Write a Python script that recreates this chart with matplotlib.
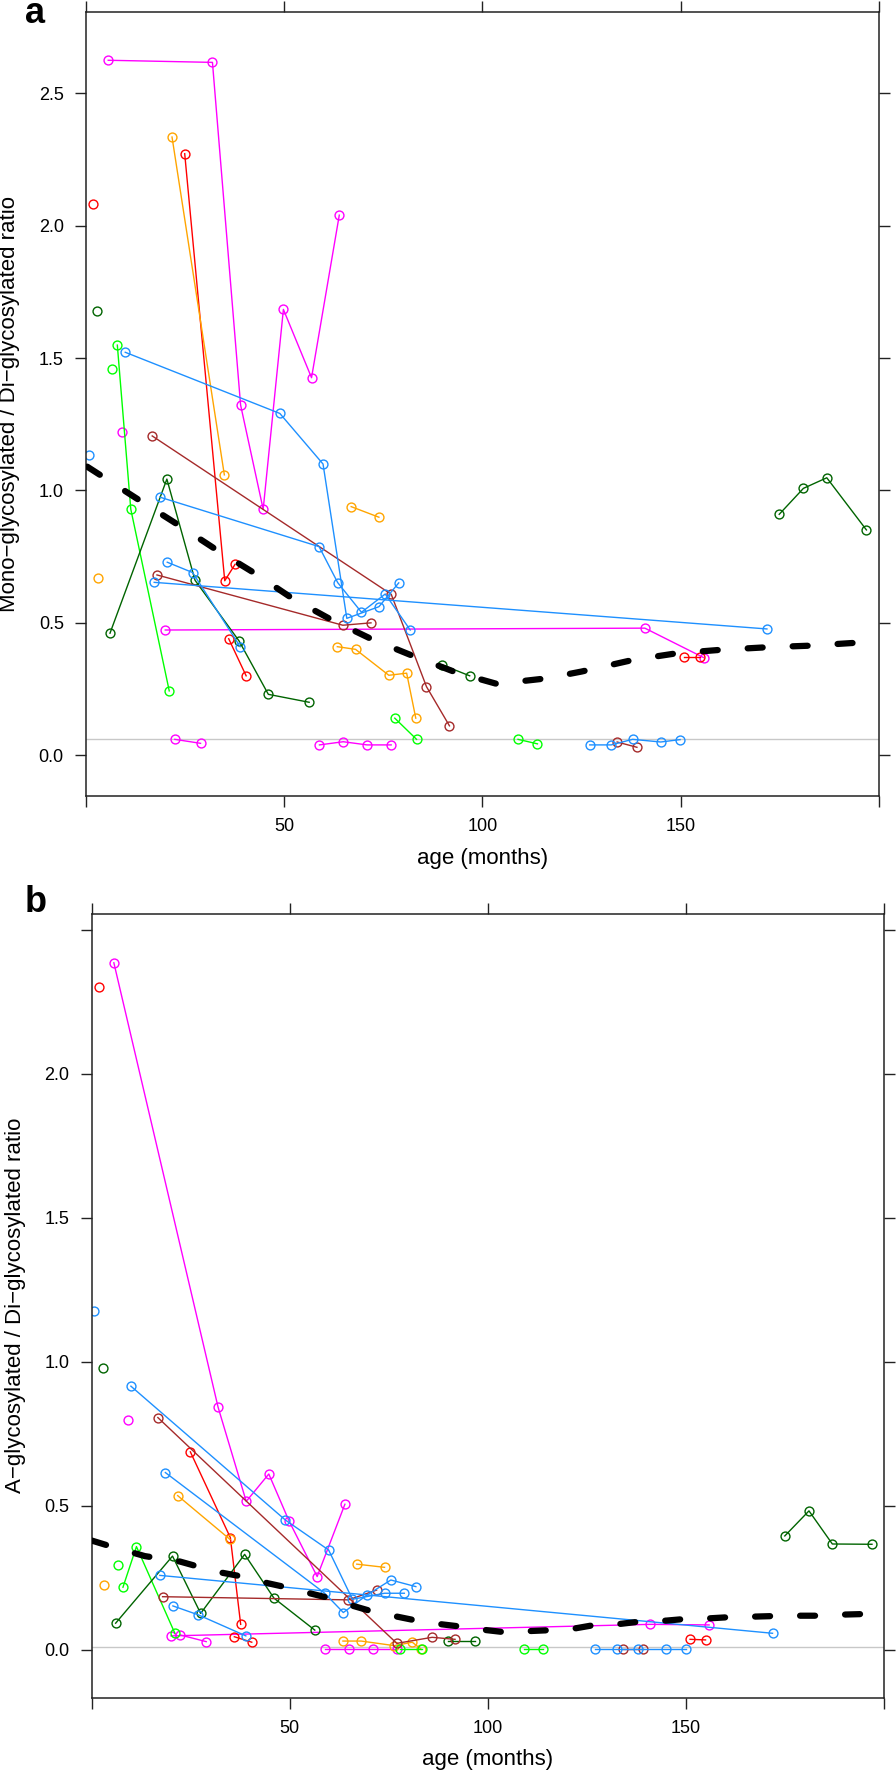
import matplotlib.pyplot as plt

plt.rcParams['font.family'] = ['Liberation Sans', 'DejaVu Sans']

MAGENTA = '#FF00FF'
BLUE = '#1E90FF'
RED = '#FF0000'
ORANGE = '#FFA500'
LIME = '#00FF00'
DKGREEN = '#006400'
BROWN = '#A52A2A'

# per subject: age (months), mono/di ratio (panel a), A-gly/di ratio (panel b)
m1_age = [5.6, 31.9, 39.0, 44.7, 49.8, 56.9, 63.9]
m1_mono = [2.625, 2.617, 1.323, 0.929, 1.684, 1.426, 2.04]
m1_agly = [2.386, 0.843, 0.516, 0.611, 0.448, 0.255, 0.506]
m2_age = [9.1]
m2_mono = [1.22]
m2_agly = [0.80]
m3_age = [20.0, 141.0, 155.8]
m3_mono = [0.473, 0.48, 0.369]
m3_agly = [0.049, 0.089, 0.087]
m4_age = [22.4, 28.9]
m4_mono = [0.06, 0.045]
m4_agly = [0.052, 0.029]
m5_age = [58.9, 64.9, 70.9, 77.0]
m5_mono = [0.039, 0.051, 0.039, 0.039]
m5_agly = [0.002, 0.002, 0.002, 0.002]

r1_age = [1.8]
r1_mono = [2.081]
r1_agly = [2.303]
r2_age = [24.9, 35.0, 37.6]
r2_mono = [2.272, 0.659, 0.721]
r2_agly = [0.688, 0.39, 0.089]
r3_age = [36.0, 40.4]
r3_mono = [0.44, 0.30]
r3_agly = [0.046, 0.027]
r4_age = [151.0, 154.9]
r4_mono = [0.371, 0.371]
r4_agly = [0.037, 0.035]

o1_age = [21.7, 34.9]
o1_mono = [2.335, 1.059]
o1_agly = [0.536, 0.384]
o2_age = [3.0]
o2_mono = [0.668]
o2_agly = [0.226]
o3_age = [66.9, 73.9]
o3_mono = [0.939, 0.899]
o3_agly = [0.298, 0.287]
o4_age = [63.4, 68.0, 76.4, 80.9, 83.2]
o4_mono = [0.41, 0.40, 0.302, 0.31, 0.14]
o4_agly = [0.031, 0.031, 0.015, 0.027, 0.002]

g1_age = [7.9, 11.3, 21.0]
g1_mono = [1.549, 0.929, 0.243]
g1_agly = [0.218, 0.359, 0.058]
g2_age = [6.6]
g2_mono = [1.458]
g2_agly = [0.295]
g3_age = [77.9, 83.4]
g3_mono = [0.14, 0.06]
g3_agly = [0.002, 0.002]
g4_age = [109.0, 113.9]
g4_mono = [0.06, 0.043]
g4_agly = [0.002, 0.002]

dg1_age = [2.8]
dg1_mono = [1.679]
dg1_agly = [0.978]
dg2_age = [6.05, 20.4, 27.5, 38.6, 46.0, 56.3]
dg2_mono = [0.461, 1.043, 0.661, 0.432, 0.23, 0.20]
dg2_agly = [0.093, 0.326, 0.127, 0.332, 0.18, 0.069]
dg3_age = [89.9, 96.8]
dg3_mono = [0.341, 0.30]
dg3_agly = [0.031, 0.031]
dg4_age = [174.9, 181.0, 186.9, 196.9]
dg4_mono = [0.91, 1.008, 1.048, 0.851]
dg4_agly = [0.396, 0.483, 0.368, 0.367]

br1_age = [16.7, 77.0, 85.9, 91.7]
br1_mono = [1.206, 0.608, 0.259, 0.111]
br1_agly = [0.807, 0.023, 0.044, 0.037]
br2_age = [17.9, 64.8, 71.9]
br2_mono = [0.681, 0.491, 0.50]
br2_agly = [0.185, 0.174, 0.208]
br3_age = [134.0, 139.0]
br3_mono = [0.05, 0.03]
br3_agly = [0.002, 0.002]

bl1_age = [0.7]
bl1_mono = [1.133]
bl1_agly = [1.178]
bl2_age = [9.9, 48.9, 59.8, 65.8, 73.9, 78.9]
bl2_mono = [1.522, 1.291, 1.10, 0.517, 0.561, 0.651]
bl2_agly = [0.916, 0.451, 0.347, 0.176, 0.197, 0.197]
bl3_age = [18.6, 58.8, 63.5, 69.5, 75.5, 81.8]
bl3_mono = [0.975, 0.788, 0.652, 0.54, 0.609, 0.473]
bl3_agly = [0.616, 0.197, 0.13, 0.191, 0.243, 0.22]
bl4_age = [17.2, 171.8]
bl4_mono = [0.653, 0.477]
bl4_agly = [0.259, 0.058]
bl5_age = [20.5, 26.9, 38.9]
bl5_mono = [0.729, 0.69, 0.41]
bl5_agly = [0.153, 0.122, 0.049]
bl6_age = [127.1, 132.5, 137.9, 145.0, 149.9]
bl6_mono = [0.039, 0.039, 0.06, 0.05, 0.059]
bl6_agly = [0.002, 0.002, 0.002, 0.002, 0.002]

# smoothed population trend (dashed black)
trend_a_age = [0.3, 14, 23.7, 33, 42.6, 52, 62, 72, 83, 93.5, 104, 110,
               116, 125, 138, 149, 160, 172, 183, 194.5]
trend_a_val = [1.09, 0.958, 0.866, 0.775, 0.687, 0.593, 0.511, 0.439, 0.372,
               0.312, 0.268, 0.28, 0.29, 0.316, 0.36, 0.385, 0.398, 0.408,
               0.414, 0.425]
trend_b_age = [0, 5, 13.4, 22.3, 27, 33, 38, 44.4, 49, 55, 60, 66, 71, 77,
               82, 88.4, 93.3, 99.6, 104.7, 111, 116, 122, 127, 133, 138,
               145, 150, 156, 161, 167.5, 172.6, 179, 184, 190, 195.3]
trend_b_val = [0.38, 0.359, 0.326, 0.307, 0.289, 0.268, 0.255, 0.232, 0.218,
               0.197, 0.18, 0.153, 0.133, 0.116, 0.102, 0.089, 0.081, 0.069,
               0.061, 0.066, 0.069, 0.075, 0.087, 0.09, 0.098, 0.102, 0.108,
               0.11, 0.114, 0.116, 0.118, 0.119, 0.119, 0.123, 0.125]

ref_a = 0.06
ref_b = 0.01

subjects = [
    (MAGENTA, m1_age, m1_mono, m1_agly), (MAGENTA, m2_age, m2_mono, m2_agly),
    (MAGENTA, m3_age, m3_mono, m3_agly), (MAGENTA, m4_age, m4_mono, m4_agly),
    (MAGENTA, m5_age, m5_mono, m5_agly),
    (RED, r1_age, r1_mono, r1_agly), (RED, r2_age, r2_mono, r2_agly),
    (RED, r3_age, r3_mono, r3_agly), (RED, r4_age, r4_mono, r4_agly),
    (ORANGE, o1_age, o1_mono, o1_agly), (ORANGE, o2_age, o2_mono, o2_agly),
    (ORANGE, o3_age, o3_mono, o3_agly), (ORANGE, o4_age, o4_mono, o4_agly),
    (LIME, g1_age, g1_mono, g1_agly), (LIME, g2_age, g2_mono, g2_agly),
    (LIME, g3_age, g3_mono, g3_agly), (LIME, g4_age, g4_mono, g4_agly),
    (DKGREEN, dg1_age, dg1_mono, dg1_agly), (DKGREEN, dg2_age, dg2_mono, dg2_agly),
    (DKGREEN, dg3_age, dg3_mono, dg3_agly), (DKGREEN, dg4_age, dg4_mono, dg4_agly),
    (BROWN, br1_age, br1_mono, br1_agly), (BROWN, br2_age, br2_mono, br2_agly),
    (BROWN, br3_age, br3_mono, br3_agly),
    (BLUE, bl1_age, bl1_mono, bl1_agly), (BLUE, bl2_age, bl2_mono, bl2_agly),
    (BLUE, bl3_age, bl3_mono, bl3_agly), (BLUE, bl4_age, bl4_mono, bl4_agly),
    (BLUE, bl5_age, bl5_mono, bl5_agly), (BLUE, bl6_age, bl6_mono, bl6_agly),
]

TICK_FS = 13
LABEL_FS = 16
FRAME = '#222222'


def draw_panel(ax, which, ref, trend_x, trend_y, ylim, yticklabels, ylabel):
    ax.axhline(ref, color='#c8c8c8', lw=1.0, zorder=1)
    for color, age, mono, agly in subjects:
        vals = mono if which == 'a' else agly
        ax.plot(age, vals, color=color, lw=1.0, marker='o', ms=6.4,
                mfc='none', mec=color, mew=1.0, zorder=2)
    ax.plot(trend_x, trend_y, color='black', lw=4.5, dash_capstyle='round',
            linestyle=(0, (2.4, 4.8)), zorder=3)

    ax.set_xlim(0, 200)
    ax.set_ylim(*ylim)
    ax.set_xticks([0, 50, 100, 150, 200])
    ax.set_xticklabels(['', '50', '100', '150', ''])
    ax.set_yticks([0, 0.5, 1.0, 1.5, 2.0, 2.5])
    ax.set_yticklabels(yticklabels)
    ax.tick_params(direction='out', length=8, width=1.0, color=FRAME,
                   top=True, right=True, labeltop=False, labelright=False,
                   labelsize=TICK_FS, pad=8)
    for s in ax.spines.values():
        s.set_color(FRAME)
        s.set_linewidth(1.1)
    ax.set_xlabel('age (months)', fontsize=LABEL_FS, labelpad=9)
    ax.set_ylabel(ylabel, fontsize=LABEL_FS)
    ax.yaxis.set_label_coords(-66 / 792.7, 0.5)


fig = plt.figure(figsize=(8.96, 17.76), dpi=100)
ax_a = fig.add_axes([0.0960, 0.5518, 0.8847, 0.4414])
ax_b = fig.add_axes([0.1023, 0.0441, 0.8846, 0.4413])

draw_panel(ax_a, 'a', ref_a, trend_a_age, trend_a_val, (-0.154, 2.807),
           ['0.0', '0.5', '1.0', '1.5', '2.0', '2.5'],
           'Mono\u2212glycosylated / Di\u2212glycosylated ratio')
draw_panel(ax_b, 'b', ref_b, trend_b_age, trend_b_val, (-0.1656, 2.5556),
           ['0.0', '0.5', '1.0', '1.5', '2.0', ''],
           'A\u2212glycosylated / Di\u2212glycosylated ratio')

fig.text(25 / 896, 1 - 23 / 1776, 'a', fontsize=26, fontweight='bold',
         va='baseline', ha='left')
fig.text(25 / 896, 1 - 912 / 1776, 'b', fontsize=26, fontweight='bold',
         va='baseline', ha='left')

fig.savefig('out.png', dpi=100)
